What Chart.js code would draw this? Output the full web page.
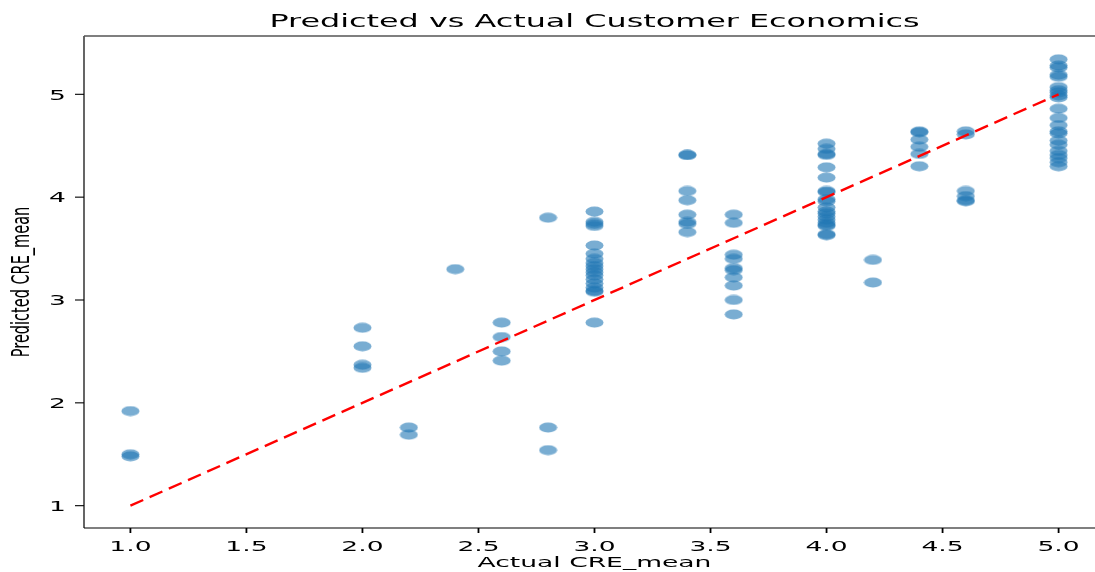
<!DOCTYPE html>
<html>
<head>
<meta charset="utf-8">
<script src="https://cdn.jsdelivr.net/npm/chart.js@4.4.1/dist/chart.umd.min.js"></script>
<style>
  html, body { margin: 0; padding: 0; background: #ffffff; overflow: hidden; }
  #wrap { width: 1115px; height: 572px; }
</style>
</head>
<body>
<div id="wrap"><canvas id="c" width="1115" height="572"></canvas></div>
<script>
// Actual CRE_mean levels and the model's predictions at each level
const actualLevels = [1.0, 2.0, 2.2, 2.4, 2.6, 2.8, 3.0, 3.4, 3.6, 4.0, 4.2, 4.4, 4.6, 5.0];
const predAt1_0 = [1.92, 1.50, 1.48];
const predAt2_0 = [2.73, 2.55, 2.37, 2.34];
const predAt2_2 = [1.76, 1.69];
const predAt2_4 = [3.30];
const predAt2_6 = [2.78, 2.64, 2.50, 2.41];
const predAt2_8 = [3.80, 1.76, 1.54];
const predAt3_0 = [3.86, 3.76, 3.74, 3.72, 3.53, 3.45, 3.40, 3.36, 3.33, 3.30, 3.27, 3.24, 3.20, 3.16, 3.12, 3.09, 3.08, 2.78];
const predAt3_4 = [4.41, 4.41, 4.06, 3.97, 3.83, 3.76, 3.74, 3.66];
const predAt3_6 = [3.83, 3.75, 3.44, 3.40, 3.31, 3.29, 3.22, 3.14, 3.00, 2.86];
const predAt4_0 = [4.52, 4.47, 4.42, 4.41, 4.29, 4.19, 4.06, 4.05, 3.98, 3.96, 3.90, 3.86, 3.84, 3.81, 3.78, 3.75, 3.73, 3.72, 3.64, 3.63];
const predAt4_2 = [3.39, 3.17];
const predAt4_4 = [4.64, 4.63, 4.56, 4.49, 4.42, 4.30];
const predAt4_6 = [4.64, 4.61, 4.06, 4.01, 3.97, 3.96];
const predAt5_0 = [5.34, 5.28, 5.26, 5.19, 5.17, 5.07, 5.04, 5.02, 4.99, 4.97, 4.86, 4.77, 4.70, 4.64, 4.62, 4.55, 4.51, 4.45, 4.41, 4.38, 4.34, 4.30];
const predictedByLevel = [predAt1_0, predAt2_0, predAt2_2, predAt2_4, predAt2_6, predAt2_8, predAt3_0,
                          predAt3_4, predAt3_6, predAt4_0, predAt4_2, predAt4_4, predAt4_6, predAt5_0];

// Identity reference line (perfect prediction)
const idealLine = [1, 5];

// Axis ticks
const xTicks = [1.0, 1.5, 2.0, 2.5, 3.0, 3.5, 4.0, 4.5, 5.0];
const yTicks = [1, 2, 3, 4, 5];

const titleText = 'Predicted vs Actual Customer Economics';
const xTitleText = 'Actual CRE_mean';
const yTitleText = 'Predicted CRE_mean';

const FONT = '"DejaVu Sans", sans-serif';
const STRETCH = 1.83;

const points = [];
actualLevels.forEach((a, i) => predictedByLevel[i].forEach(p => points.push({ x: a, y: p })));

// Wide, semi-transparent ellipse marker
function makeMarker() {
  const w = 19, h = 11;
  const c = document.createElement('canvas');
  c.width = w; c.height = h;
  const g = c.getContext('2d');
  g.fillStyle = 'rgba(31,119,180,0.6)';
  g.beginPath();
  g.ellipse(w / 2, h / 2, 9, 4.9, 0, 0, Math.PI * 2);
  g.fill();
  return c;
}

function drawText(ctx, text, x, y, size, sx, align, rotate) {
  ctx.save();
  ctx.translate(x, y);
  ctx.font = size + 'px ' + FONT;
  ctx.fillStyle = '#000';
  ctx.textAlign = align;
  ctx.textBaseline = 'alphabetic';
  if (rotate) {
    ctx.rotate(-Math.PI / 2);
    ctx.scale(1, sx);
  } else {
    ctx.scale(sx, 1);
  }
  ctx.fillText(text, 0, 0);
  ctx.restore();
}

const axesPlugin = {
  id: 'axesPlugin',
  afterDraw(chart) {
    const { ctx, chartArea: a, scales } = chart;
    const xs = scales.x, ys = scales.y;
    ctx.save();
    ctx.strokeStyle = '#000';
    ctx.lineWidth = 1.2;
    ctx.beginPath();
    ctx.moveTo(a.left, a.top); ctx.lineTo(a.left, a.bottom);
    ctx.moveTo(a.left, a.bottom); ctx.lineTo(a.right, a.bottom);
    ctx.moveTo(a.right, a.top); ctx.lineTo(a.right, a.bottom);
    ctx.stroke();
    ctx.strokeStyle = '#555';
    ctx.lineWidth = 1.6;
    ctx.beginPath();
    ctx.moveTo(a.left, a.top); ctx.lineTo(a.right, a.top);
    ctx.stroke();

    // x ticks
    ctx.strokeStyle = '#000';
    ctx.lineWidth = 1.8;
    xTicks.forEach(v => {
      const px = xs.getPixelForValue(v);
      ctx.beginPath(); ctx.moveTo(px, a.bottom); ctx.lineTo(px, a.bottom + 5); ctx.stroke();
      drawText(ctx, v.toFixed(1), px, a.bottom + 23, 14.5, STRETCH, 'center', false);
    });
    // y ticks
    ctx.lineWidth = 1.1;
    yTicks.forEach(v => {
      const py = ys.getPixelForValue(v);
      ctx.beginPath(); ctx.moveTo(a.left, py); ctx.lineTo(a.left - 9, py); ctx.stroke();
      drawText(ctx, String(v), a.left - 18, py + 5.3, 14.5, STRETCH, 'right', false);
    });
    ctx.restore();

    const cx = (a.left + a.right) / 2;
    drawText(ctx, titleText, cx, 27, 17.4, STRETCH, 'center', false);
    drawText(ctx, xTitleText, cx, 567, 14.5, STRETCH, 'center', false);
    drawText(ctx, yTitleText, 29, (a.top + a.bottom) / 2, 14.5, STRETCH * 0.9, 'center', true);
  }
};

new Chart(document.getElementById('c'), {
  type: 'scatter',
  data: {
    datasets: [
      {
        type: 'line',
        data: [{ x: idealLine[0], y: idealLine[0] }, { x: idealLine[1], y: idealLine[1] }],
        borderColor: '#ff0000',
        borderWidth: 2.4,
        borderDash: [14, 7],
        pointRadius: 0,
        fill: false,
        order: 0
      },
      {
        data: points,
        pointStyle: makeMarker(),
        pointRadius: 5,
        order: 1
      }
    ]
  },
  options: {
    responsive: false,
    devicePixelRatio: 1,
    animation: false,
    layout: { padding: { left: 84, top: 36, right: 10, bottom: 44 } },
    plugins: { legend: { display: false }, tooltip: { enabled: false }, title: { display: false } },
    scales: {
      x: { type: 'linear', display: false, min: 0.8, max: 5.2 },
      y: { type: 'linear', display: false, min: 0.783, max: 5.567 }
    }
  },
  plugins: [axesPlugin]
});
</script>
</body>
</html>
